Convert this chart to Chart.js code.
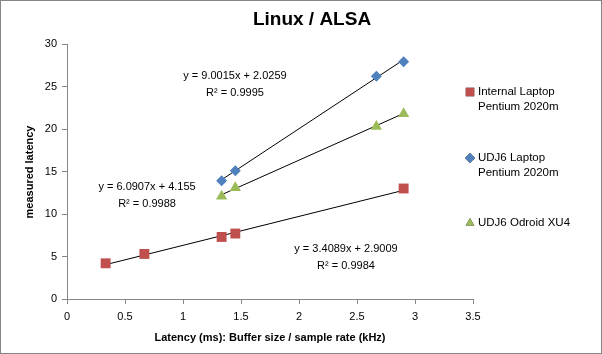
<!DOCTYPE html>
<html>
<head>
<meta charset="utf-8">
<script src="https://cdn.jsdelivr.net/npm/chart.js@4"></script>
<style>
  html, body { margin: 0; padding: 0; background: #fff; }
  #wrap { width: 602px; height: 354px; position: relative; box-sizing: border-box; border: 1px solid #868686; }
  canvas { display: block; }
</style>
</head>
<body>
<div id="wrap"><canvas id="chart" width="600" height="352"></canvas></div>
<script>
// series data: latency (ms) vs measured latency
const internalX = [0.333, 0.667, 1.333, 1.451, 2.902];
const internalY = [4.2, 5.3, 7.3, 7.7, 13.0];
const udjLaptopX = [1.333, 1.451, 2.667, 2.902];
const udjLaptopY = [13.9, 15.1, 26.2, 27.9];
const odroidX = [1.333, 1.451, 2.667, 2.902];
const odroidY = [12.1, 13.1, 20.3, 21.8];

// trendline endpoints as drawn
const internalTrendX = [0.333, 2.902];
const internalTrendY = [4.04, 12.79];
const udjLaptopTrendX = [1.333, 2.902];
const udjLaptopTrendY = [14.03, 28.15];
const odroidTrendX = [1.333, 2.902];
const odroidTrendY = [12.27, 21.83];

const legendNames = [["Internal Laptop", "Pentium 2020m"], ["UDJ6 Laptop", "Pentium 2020m"], ["UDJ6 Odroid XU4"]];
const equations = [
  ["y = 3.4089x + 2.9009", "R² = 0.9984"],
  ["y = 9.0015x + 2.0259", "R² = 0.9995"],
  ["y = 6.0907x + 4.155", "R² = 0.9988"]
];
// where the equation boxes sit, in data units
const eqX = [2.405, 1.448, 0.69];
const eqY = [5.9, 26.2, 13.2];

const FONT = "'Liberation Sans', Arial, sans-serif";
const AXIS = "#868686";

const pts = (xs, ys) => xs.map((x, i) => ({ x, y: ys[i] }));

const colors = ["#C0504D", "#4F81BD", "#9BBB59"];
const shapes = ["rect", "rectRot", "triangle"];
const radii = [7, 5.5, 6.5];

const extras = {
  id: "extras",
  afterDraw(c) {
    const ctx = c.ctx;
    const xs = c.scales.x, ys = c.scales.y;
    ctx.save();
    ctx.fillStyle = "#000";
    ctx.textAlign = "center";
    ctx.textBaseline = "middle";
    ctx.font = "bold 19px " + FONT;
    ctx.fillText("Linux / ALSA", 311, 19);
    ctx.font = "bold 11px " + FONT;
    ctx.fillText("Latency (ms): Buffer size / sample rate (kHz)", 269, 337);
    ctx.save();
    ctx.translate(29, 171);
    ctx.rotate(-Math.PI / 2);
    ctx.fillText("measured latency", 0, 0);
    ctx.restore();

    // trendline equations
    ctx.font = "11px " + FONT;
    equations.forEach((lines, i) => {
      const px = xs.getPixelForValue(eqX[i]);
      const py = ys.getPixelForValue(eqY[i]);
      lines.forEach((t, j) => ctx.fillText(t, px, py + j * 17));
    });

    // legend
    ctx.textAlign = "left";
    ctx.font = "11.5px " + FONT;
    const legY = [91, 157, 222];
    legendNames.forEach((lines, i) => {
      Chart.helpers.drawPoint(ctx, {
        pointStyle: shapes[i], radius: i === 0 ? 6 : 5, borderWidth: 0, rotation: 0
      }, 469, legY[i]);
      ctx.fillStyle = colors[i];
      ctx.fill();
      ctx.fillStyle = "#000";
      lines.forEach((t, j) => ctx.fillText(t, 477, legY[i] + j * 15));
    });
    ctx.restore();
  }
};

const trend = (xs, ys) => ({
  type: "line",
  data: pts(xs, ys),
  borderColor: "#000",
  borderWidth: 1,
  pointRadius: 0,
  fill: false,
  order: 1
});

new Chart(document.getElementById("chart"), {
  type: "scatter",
  data: {
    datasets: [
      trend(internalTrendX, internalTrendY),
      trend(udjLaptopTrendX, udjLaptopTrendY),
      trend(odroidTrendX, odroidTrendY),
      { label: "Internal Laptop Pentium 2020m", data: pts(internalX, internalY), order: 0,
        pointStyle: "rect", pointRadius: radii[0], backgroundColor: colors[0], borderWidth: 0 },
      { label: "UDJ6 Laptop Pentium 2020m", data: pts(udjLaptopX, udjLaptopY), order: 0,
        pointStyle: "rectRot", pointRadius: radii[1], backgroundColor: colors[1], borderWidth: 0 },
      { label: "UDJ6 Odroid XU4", data: pts(odroidX, odroidY), order: 0,
        pointStyle: "triangle", pointRadius: radii[2], backgroundColor: colors[2], borderWidth: 0 }
    ]
  },
  options: {
    responsive: false,
    animation: false,
    layout: { padding: { left: 0, top: 43, right: 128, bottom: 0 } },
    plugins: { legend: { display: false }, tooltip: { enabled: false } },
    scales: {
      x: {
        type: "linear", min: 0, max: 3.5,
        afterFit: s => { s.height = 54; },
        ticks: { stepSize: 0.5, color: "#000", font: { family: FONT, size: 11 }, padding: 6,
          callback: v => String(v) },
        grid: { drawOnChartArea: false, drawTicks: true, tickLength: 5, color: AXIS },
        border: { color: AXIS }
      },
      y: {
        type: "linear", min: 0, max: 30,
        afterFit: s => { s.width = 66; },
        ticks: { stepSize: 5, color: "#000", font: { family: FONT, size: 11 }, padding: 5,
          callback: v => String(v) },
        grid: { drawOnChartArea: false, drawTicks: true, tickLength: 5, color: AXIS },
        border: { color: AXIS }
      }
    }
  },
  plugins: [extras]
});
</script>
</body>
</html>
